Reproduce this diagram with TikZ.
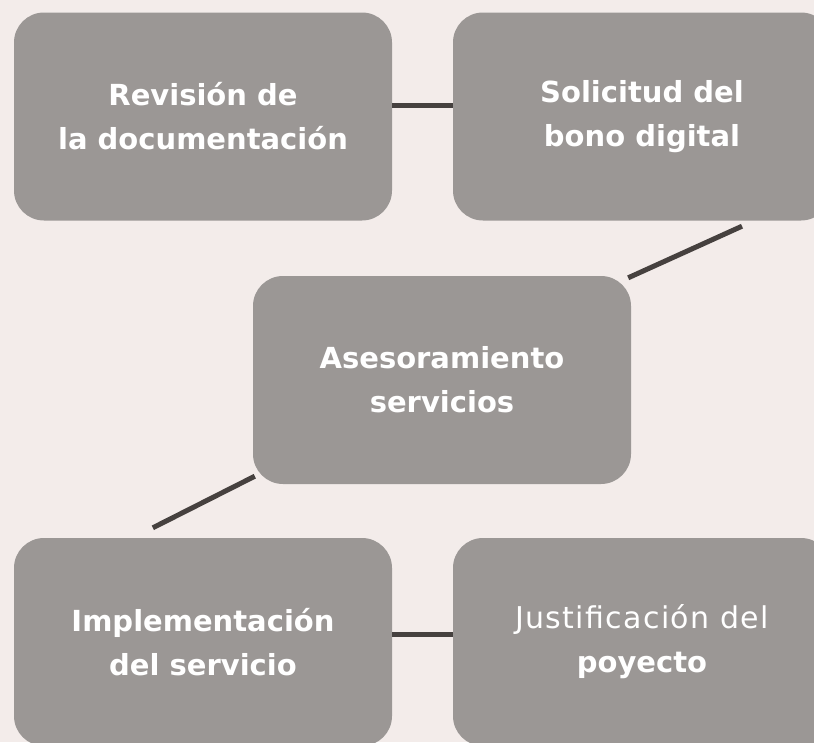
\documentclass[tikz,border=0pt]{standalone}
\usepackage{fontspec}
\setmainfont{DejaVu Sans}
\newfontfamily\lightfont[LetterSpace=4.5]{DejaVu Sans}
\usepackage{xcolor}
\definecolor{bgpink}{HTML}{F3ECEA}
\definecolor{boxgray}{HTML}{9B9795}
\definecolor{linkgray}{HTML}{46413F}

\begin{document}
\begin{tikzpicture}[x=1pt, y=-1pt,
  box/.style={fill=boxgray, rounded corners=30pt, minimum width=378pt, minimum height=208pt, text=white, align=center, font=\fontsize{29}{44}\selectfont\bfseries},
  link/.style={draw=linkgray, line width=5pt}]
% fondo
\fill[bgpink] (0,0) rectangle (814,742);
\useasboundingbox (0,0) rectangle (814,742);
\clip (0,0) rectangle (814,742);
% cajas
\node[box] (rev) at (203,116.5) {Revisión de\\la documentación};
\node[box] (sol) at (642,116.5) {Solicitud del\\bono digital};
\node[box] (ase) at (442,380) {Asesoramiento\\servicios};
\node[box] (imp) at (203,642) {Implementación\\del servicio};
\node[box] (jus) at (642,642) {{\lightfont\mdseries\fontsize{30}{44}\selectfont Justificación del}\\poyecto};
% conectores
\draw[link] ([yshift=11pt]rev.east) -- ([yshift=11pt]sol.west);
\draw[link] ([xshift=100pt,yshift=-5.5pt]sol.south) -- ([xshift=-3pt,yshift=-2pt]ase.north east);
\draw[link] ([xshift=2pt,yshift=8pt]ase.south west) -- ([xshift=139pt,yshift=10pt]imp.north west);
\draw[link] ([yshift=8pt]imp.east) -- ([yshift=8pt]jus.west);
\end{tikzpicture}
\end{document}
